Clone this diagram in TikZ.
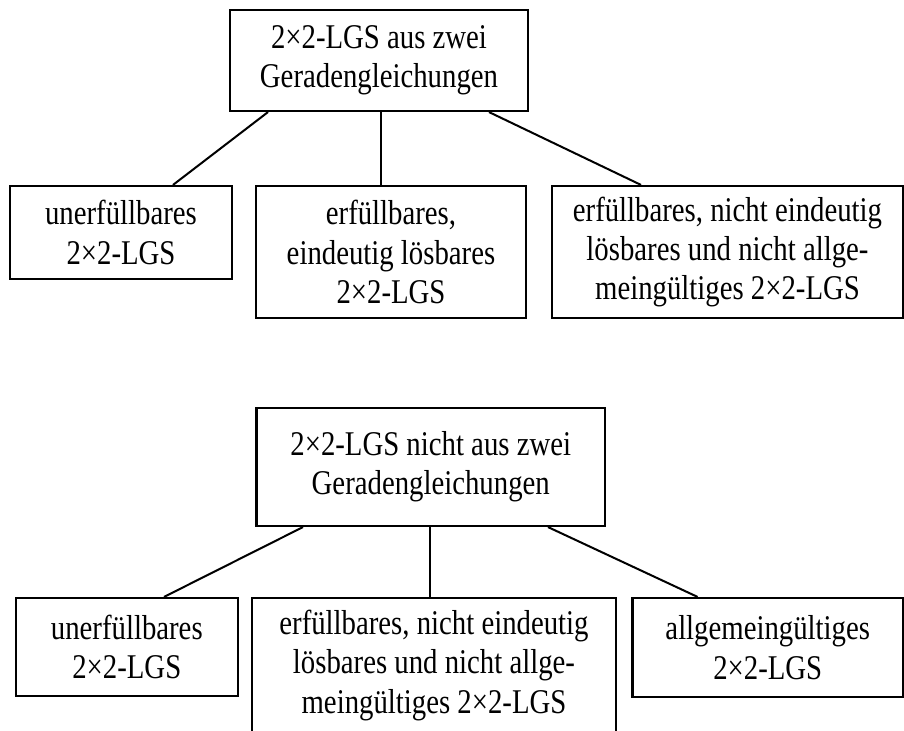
\documentclass[tikz,border=0pt]{standalone}
\usepackage{fontspec}
\setmainfont{Liberation Serif}[FakeStretch=0.83]
\usetikzlibrary{calc}
\begin{document}
\begin{tikzpicture}[x=0.75pt,y=-0.75pt,
  box/.style={draw, line width=1.6pt, inner sep=0pt, align=center,
    font=\fontsize{26}{29.5}\selectfont},
  link/.style={line width=1.5pt}]
\useasboundingbox (0,0) rectangle (904,731);
\clip (0,0) rectangle (904,731);

% first tree: system of two line equations
\node[box, minimum width=223.5pt, minimum height=75.75pt] (t1) at (379,60.5)
  {2×2-LGS aus zwei\\Geradengleichungen};
\node[box, minimum width=166.5pt, minimum height=69.75pt] (a1) at (121,232.5)
  {unerfüllbares\\2×2-LGS};
\node[box, minimum width=202.1pt, minimum height=99pt] (b1) at (391,252)
  {erfüllbares,\\eindeutig lösbares\\2×2-LGS};
\node[box, minimum width=263.25pt, minimum height=99pt] (c1) at (727.5,252)
  {erfüllbares, nicht eindeutig\\lösbares und nicht allge-\\meingültiges 2×2-LGS};

\draw[link] ($(t1.south)+(-111,0)$) -- ($(a1.north)+(52,0)$);
\draw[link] ($(t1.south)+(1.5,0)$) -- ($(b1.north)+(-10.5,0)$);
\draw[link] ($(t1.south)+(110,0)$) -- ($(c1.north)+(-86.5,0)$);

% second tree: system not made of two line equations
\node[box, minimum width=261.4pt, minimum height=88.5pt] (t2) at (430.75,467)
  {2×2-LGS nicht aus zwei\\Geradengleichungen};
\node[box, minimum width=166.8pt, minimum height=73.5pt] (a2) at (126.8,647)
  {unerfüllbares\\2×2-LGS};
\node[box, minimum width=273pt, minimum height=101.25pt] (b2) at (434,665.5)
  {erfüllbares, nicht eindeutig\\lösbares und nicht allge-\\meingültiges 2×2-LGS};
\node[box, minimum width=202.9pt, minimum height=74.25pt] (c2) at (767.75,647.5)
  {allgemeingültiges\\2×2-LGS};

\draw[link] ($(t2.south)+(-127.75,0)$) -- ($(a2.north)+(37.2,0)$);
\draw[link] ($(t2.south)+(-0.75,0)$) -- ($(b2.north)+(-4,0)$);
\draw[link] ($(t2.south)+(117.25,0)$) -- ($(c2.north)+(-70.15,0)$);
\end{tikzpicture}
\end{document}
